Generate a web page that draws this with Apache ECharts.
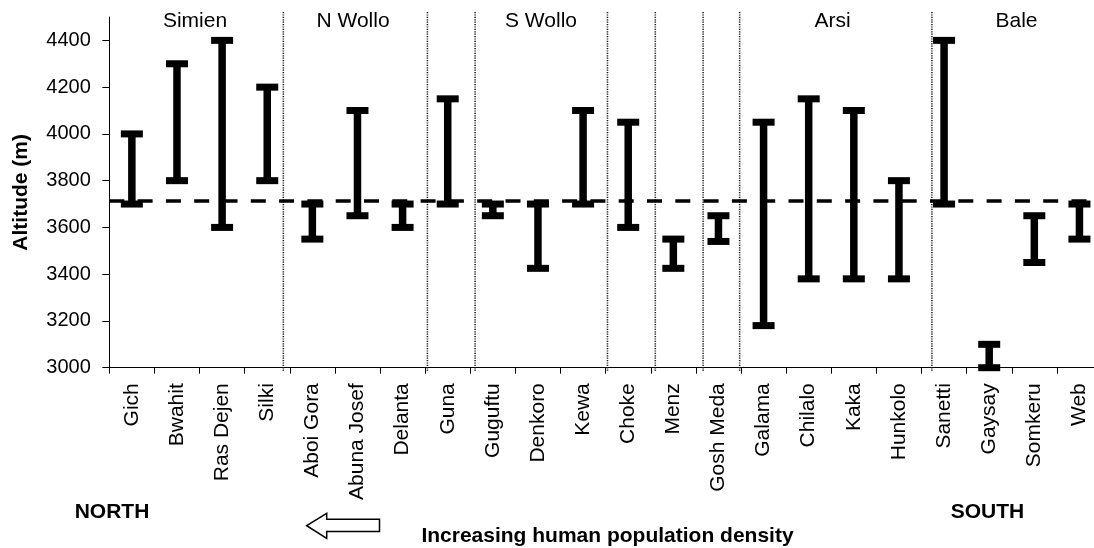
<!DOCTYPE html>
<html>
<head>
<meta charset="utf-8">
<style>
  html, body { margin: 0; padding: 0; background: #fff; overflow: hidden; width: 1094px; height: 548px; }
  #chart { width: 1102px; height: 548px; }
</style>
<script src="https://cdn.jsdelivr.net/npm/echarts@6/dist/echarts.min.js"></script>
</head>
<body>
<div id="chart"></div>
<script>
// ---- data ----
const sites = ['Gich', 'Bwahit', 'Ras Dejen', 'Silki', 'Aboi Gora', 'Abuna Josef', 'Delanta',
  'Guna', 'Guguftu', 'Denkoro', 'Kewa', 'Choke', 'Menz', 'Gosh Meda', 'Galama', 'Chilalo',
  'Kaka', 'Hunkolo', 'Sanetti', 'Gaysay', 'Somkeru', 'Web'];
const lowAltitude  = [3700, 3800, 3600, 3800, 3550, 3650, 3600, 3700, 3650, 3425, 3700,
  3600, 3425, 3540, 3180, 3380, 3380, 3380, 3700, 3000, 3450, 3550];
const highAltitude = [4000, 4300, 4400, 4200, 3700, 4100, 3700, 4150, 3700, 3700, 4100,
  4050, 3550, 3650, 4050, 4150, 4100, 3800, 4400, 3100, 3650, 3700];
const referenceAltitude = 3712;
const yTicks = [3000, 3200, 3400, 3600, 3800, 4000, 4200, 4400];
// divider positions along the site axis (in site units, 0 = left edge)
const dividers = [3.857, 7.05, 8.107, 11.04, 12.10, 13.16, 13.97, 18.23];
const regions = ['Simien', 'N Wollo', 'S Wollo', 'Arsi', 'Bale'];

const FONT = "'Liberation Sans', Arial, Helvetica, sans-serif";
const chart = echarts.init(document.getElementById('chart'));

const regionX = [195, 353, 541, 832.5, 1016.5];

const option = {
  animation: false,
  backgroundColor: '#fff',
  textStyle: { fontFamily: FONT, color: '#000' },
  grid: { left: 109.3, right: 0, top: 17, bottom: 180.3, containLabel: false },
  xAxis: [
    {
      type: 'category',
      data: sites,
      boundaryGap: true,
      axisLine: { show: true, lineStyle: { color: '#000', width: 1 } },
      axisTick: { show: true, length: 6, lineStyle: { color: '#000' } },
      axisLabel: { rotate: 90, interval: 0, fontSize: 21, margin: 15.5, color: '#000', fontFamily: FONT }
    },
    { type: 'value', min: 0, max: 22, show: false }
  ],
  yAxis: {
    type: 'value',
    min: 3000,
    max: 4500,
    name: 'Altitude (m)',
    nameLocation: 'middle',
    nameGap: 78,
    nameTextStyle: { fontSize: 21, fontWeight: 'bold', color: '#000', fontFamily: FONT },
    axisLine: { show: true, lineStyle: { color: '#000', width: 1 } },
    axisTick: { show: true, length: 7, customValues: yTicks, lineStyle: { color: '#000' } },
    axisLabel: { fontSize: 20, margin: 18.5, color: '#000', customValues: yTicks, fontFamily: FONT,
      formatter: v => String(v) },
    splitLine: { show: false }
  },
  series: [
    {
      type: 'custom',
      name: 'dividers',
      xAxisIndex: 1,
      silent: true,
      z: 1,
      data: dividers.map(v => [v]),
      encode: { x: 0 },
      renderItem: function (params, api) {
        const v = api.value(0);
        const top = api.coord([v, 4500]);
        const bot = api.coord([v, 3000]);
        return {
          type: 'line',
          shape: { x1: top[0], y1: top[1] - 5, x2: bot[0], y2: bot[1] + 4 },
          style: { stroke: '#222', lineWidth: 1.6, lineDash: [1.2, 1.2] }
        };
      }
    },
    {
      type: 'custom',
      name: 'Altitude range',
      z: 3,
      silent: true,
      data: sites.map((s, i) => [i, lowAltitude[i], highAltitude[i]]),
      encode: { x: 0, y: [1, 2] },
      renderItem: function (params, api) {
        const i = api.value(0);
        const pLo = api.coord([i, api.value(1)]);
        const pHi = api.coord([i, api.value(2)]);
        const capW = 22, capH = 7, lineW = 7.5;
        return {
          type: 'group',
          children: [
            { type: 'rect', shape: { x: pHi[0] - lineW / 2, y: pHi[1], width: lineW, height: pLo[1] - pHi[1] }, style: { fill: '#000' } },
            { type: 'rect', shape: { x: pHi[0] - capW / 2, y: pHi[1] - capH / 2, width: capW, height: capH }, style: { fill: '#000' } },
            { type: 'rect', shape: { x: pLo[0] - capW / 2, y: pLo[1] - capH / 2, width: capW, height: capH }, style: { fill: '#000' } }
          ]
        };
      },
      markLine: {
        silent: true,
        symbol: ['none', 'none'],
        label: { show: false },
        lineStyle: { color: '#000', width: 3.5, type: [15, 13.3] },
        data: [{ yAxis: referenceAltitude }]
      }
    }
  ],
  graphic: [
    ...regions.map((r, k) => ({
      type: 'text', x: regionX[k], y: 21.5,
      style: { text: r, fontSize: 21, fontFamily: FONT, fill: '#000', textAlign: 'center', textVerticalAlign: 'middle' }
    })),
    { type: 'text', x: 112, y: 512.5,
      style: { text: 'NORTH', fontSize: 21, fontWeight: 'bold', fontFamily: FONT, fill: '#000', textAlign: 'center', textVerticalAlign: 'middle' } },
    { type: 'text', x: 987.5, y: 512,
      style: { text: 'SOUTH', fontSize: 21, fontWeight: 'bold', fontFamily: FONT, fill: '#000', textAlign: 'center', textVerticalAlign: 'middle' } },
    { type: 'text', x: 607.5, y: 536,
      style: { text: 'Increasing human population density', fontSize: 21, fontWeight: 'bold', fontFamily: FONT, fill: '#000', textAlign: 'center', textVerticalAlign: 'middle' } },
    { type: 'polygon',
      shape: { points: [[306.7, 525.7], [326.7, 513.3], [326.7, 519.3], [379.5, 519.3], [379.5, 531.5], [326.7, 531.5], [326.7, 538.3]] },
      style: { fill: '#fff', stroke: '#000', lineWidth: 1.5 } }
  ]
};

chart.setOption(option);
</script>
</body>
</html>
